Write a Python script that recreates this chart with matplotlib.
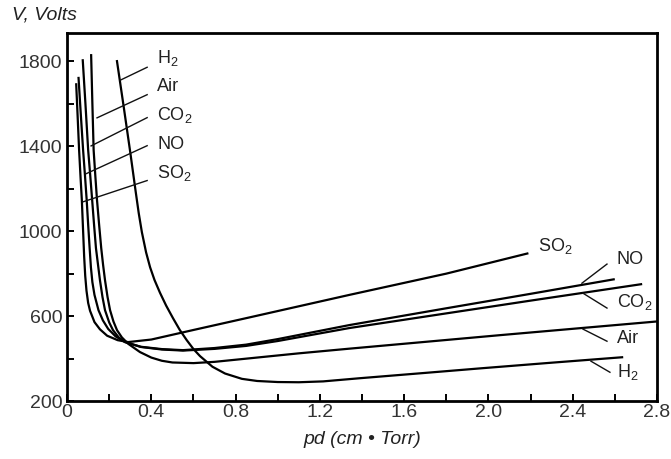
import matplotlib
matplotlib.use("Agg")
import matplotlib.pyplot as plt
from matplotlib.ticker import MultipleLocator

plt.rcParams['font.family'] = ['Liberation Sans', 'DejaVu Sans']
plt.rcParams['mathtext.default'] = 'regular'

# Paschen curves: pd (cm*Torr), V (volts)
h2_pd = [0.236, 0.268, 0.30, 0.325, 0.34, 0.355, 0.375, 0.394, 0.415, 0.441, 0.47, 0.503, 0.535, 0.568,
         0.60, 0.631, 0.69, 0.75, 0.83, 0.902, 1.0, 1.1, 1.215, 1.39, 1.7, 1.97, 2.3, 2.64]
h2_v = [1805, 1590, 1370, 1190, 1085, 995, 900, 830, 770, 710, 650, 590, 535, 487,
        445, 412, 362, 330, 305, 295, 290, 289, 293, 308, 333, 355, 381, 407]

air_pd = [0.114, 0.12, 0.126, 0.134, 0.142, 0.152, 0.162, 0.171, 0.18, 0.192, 0.204, 0.22, 0.237, 0.26,
          0.29, 0.346, 0.40, 0.45, 0.5, 0.6, 0.7, 0.8, 0.95, 1.1, 1.34, 2.06, 2.8]
air_v = [1833, 1600, 1381, 1260, 1146, 1030, 920, 840, 769, 690, 628, 575, 534, 500,
         470, 431, 405, 390, 382, 379, 385, 395, 410, 425, 447, 511, 575]

co2_pd = [0.074, 0.087, 0.10, 0.11, 0.119, 0.128, 0.137, 0.147, 0.156, 0.168, 0.18, 0.20, 0.218, 0.245,
          0.275, 0.35, 0.45, 0.55, 0.7, 0.85, 1.0, 1.34, 1.8, 2.2, 2.73]
co2_v = [1809, 1600, 1381, 1260, 1146, 1030, 920, 840, 769, 690, 628, 570, 534, 500,
         478, 455, 443, 438, 446, 460, 483, 544, 613, 673, 751]

no_pd = [0.054, 0.065, 0.076, 0.085, 0.093, 0.10, 0.107, 0.113, 0.12, 0.13, 0.149, 0.17, 0.195, 0.23,
         0.275, 0.35, 0.45, 0.55, 0.7, 0.85, 1.0, 1.34, 1.8, 2.2, 2.6]
no_v = [1726, 1550, 1381, 1260, 1146, 1030, 920, 830, 760, 700, 628, 580, 540, 505,
        478, 456, 445, 440, 450, 466, 492, 558, 637, 705, 774]

so2_pd = [0.043, 0.05, 0.057, 0.064, 0.07, 0.076, 0.081, 0.086, 0.092, 0.10, 0.109, 0.13, 0.156, 0.19,
          0.24, 0.29, 0.40, 0.60, 0.87, 1.34, 1.80, 2.19]
so2_v = [1696, 1540, 1381, 1250, 1146, 1000, 880, 790, 720, 662, 625, 572, 538, 508,
         487, 478, 490, 535, 595, 700, 800, 896]

# label text, leader line (x0, y0, x1, y1) and label anchor
left_names = ['H$_2$', 'Air', 'CO$_2$', 'NO', 'SO$_2$']
left_leaders = [(0.252, 1710, 0.38, 1771), (0.142, 1533, 0.38, 1642), (0.114, 1401, 0.38, 1534),
                (0.09, 1270, 0.38, 1402), (0.076, 1138, 0.38, 1238)]
left_labels = [(0.427, 1815), (0.427, 1682), (0.427, 1546), (0.427, 1409), (0.427, 1273)]

right_names = ['SO$_2$', 'NO', 'CO$_2$', 'Air', 'H$_2$']
right_leaders = [None, (2.444, 755, 2.563, 845), (2.449, 708, 2.563, 638),
                 (2.449, 539, 2.563, 482), (2.487, 388, 2.577, 336)]
right_labels = [(2.235, 930), (2.61, 868), (2.61, 665), (2.61, 496), (2.61, 335)]

xticks = [0, 0.4, 0.8, 1.2, 1.6, 2.0, 2.4, 2.8]
xtick_labels = ['0', '0.4', '0.8', '1.2', '1.6', '2.0', '2.4', '2.8']
yticks = [200, 600, 1000, 1400, 1800]

fig = plt.figure(figsize=(6.71, 4.59), dpi=100)
ax = fig.add_axes([0.1, 0.126, 0.879, 0.802])

for xs, ys in [(h2_pd, h2_v), (air_pd, air_v), (co2_pd, co2_v), (no_pd, no_v), (so2_pd, so2_v)]:
    ax.plot(xs, ys, color='black', lw=1.6, solid_capstyle='butt', solid_joinstyle='round')

for name, ld, pos in zip(left_names, left_leaders, left_labels):
    ax.plot([ld[0], ld[2]], [ld[1], ld[3]], color='#111111', lw=1.0)
    ax.text(pos[0], pos[1], name, fontsize=13, va='center', ha='left', color='#222222')

for name, ld, pos in zip(right_names, right_leaders, right_labels):
    if ld is not None:
        ax.plot([ld[0], ld[2]], [ld[1], ld[3]], color='#111111', lw=1.0)
    ax.text(pos[0], pos[1], name, fontsize=13, va='center', ha='left', color='#222222')

ax.set_xlim(0, 2.8)
ax.set_ylim(200, 1932)
ax.set_xticks(xticks)
ax.set_xticklabels(xtick_labels)
ax.set_yticks(yticks)
ax.xaxis.set_minor_locator(MultipleLocator(0.2))
ax.yaxis.set_minor_locator(MultipleLocator(200))
ax.tick_params(which='both', direction='in', length=5, width=1.4, labelsize=14, pad=2,
               color='black', labelcolor='#333333')
ax.tick_params(axis='y', pad=3.5)
for s in ax.spines.values():
    s.set_linewidth(2.0)

fig.text(12 / 671, 1 - 15 / 459, 'V, Volts', fontsize=14, style='italic', va='center', ha='left',
         color='#222222')
fig.text(362 / 671, 1 - 440 / 459, 'pd (cm \u2022 Torr)', fontsize=14, style='italic', va='center',
         ha='center', color='#222222')

plt.savefig('out.png', dpi=100)
